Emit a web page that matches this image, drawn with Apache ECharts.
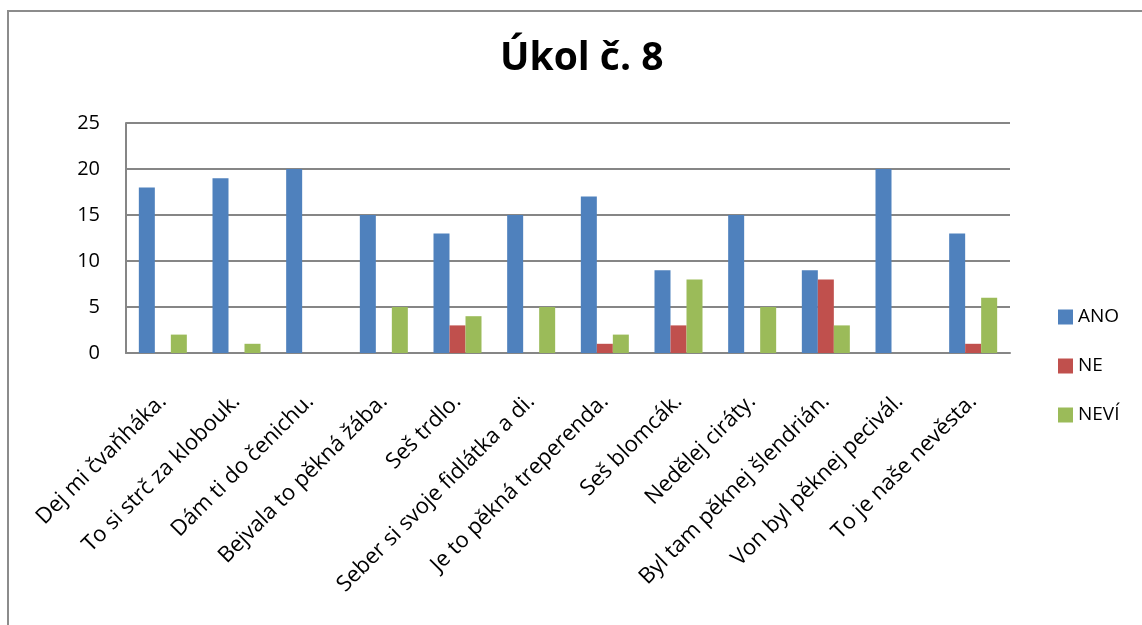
<!DOCTYPE html>
<html>
<head>
<meta charset="utf-8">
<script src="https://cdn.jsdelivr.net/npm/echarts@6/dist/echarts.min.js"></script>
<style>
  html, body { margin: 0; padding: 0; background: #fff; }
  #chart { width: 1142px; height: 625px; }
</style>
</head>
<body>
<div id="chart"></div>
<script>
  // data
  const categories = [
    'Dej mi čvaňháka.', 'To si strč za klobouk.', 'Dám ti do čenichu.',
    'Bejvala to pěkná žába.', 'Seš trdlo.', 'Seber si svoje fidlátka a di.',
    'Je to pěkná treperenda.', 'Seš blomcák.', 'Nedělej ciráty.',
    'Byl tam pěknej šlendrián.', 'Von byl pěknej pecivál.', 'To je naše nevěsta.'
  ];
  const ano  = [18, 19, 20, 15, 13, 15, 17, 9, 15, 9, 20, 13];
  const ne   = [0, 0, 0, 0, 3, 0, 1, 3, 0, 8, 0, 1];
  const nevi = [2, 1, 0, 5, 4, 5, 2, 8, 5, 3, 0, 6];

  const font = '"Open Sans", Lato, sans-serif';
  const chart = echarts.init(document.getElementById('chart'));

  const option = {
    animation: false,
    title: {
      text: 'Úkol č. 8',
      left: 495,
      top: 34,
      textStyle: { fontFamily: font, fontSize: 39, fontWeight: 'bold', color: '#000' }
    },
    legend: {
      orient: 'vertical',
      left: 1053,
      top: 302,
      itemWidth: 15,
      itemHeight: 15,
      itemGap: 29,
      icon: 'rect',
      textStyle: { fontFamily: font, fontSize: 19, color: '#000', lineHeight: 20 },
      data: ['ANO', 'NE', 'NEVÍ']
    },
    grid: { left: 126, right: 132, top: 123, bottom: 272 },
    xAxis: {
      type: 'category',
      data: categories,
      axisLine: { lineStyle: { color: '#868686', width: 2 } },
      axisTick: { show: false },
      axisLabel: {
        rotate: 45,
        interval: 0,
        margin: 45,
        fontFamily: font,
        fontSize: 22,
        color: '#000'
      }
    },
    yAxis: {
      type: 'value',
      min: 0,
      max: 25,
      interval: 5,
      axisLine: { show: true, lineStyle: { color: '#868686', width: 2 } },
      axisTick: { show: false },
      splitLine: { lineStyle: { color: '#868686', width: 2 } },
      axisLabel: { margin: 26, fontFamily: font, fontSize: 20, color: '#000' }
    },
    series: [
      { name: 'ANO', type: 'bar', data: ano, barWidth: 16, barGap: '0%', itemStyle: { color: '#4F81BD' } },
      { name: 'NE', type: 'bar', data: ne, barWidth: 16, barGap: '0%', itemStyle: { color: '#C0504D' } },
      { name: 'NEVÍ', type: 'bar', data: nevi, barWidth: 16, barGap: '0%', itemStyle: { color: '#9BBB59' } }
    ],
    graphic: [{
      type: 'rect',
      shape: { x: 8, y: 11, width: 1200, height: 700 },
      style: { fill: 'none', stroke: '#8c8c8c', lineWidth: 2 },
      silent: true
    }]
  };
  chart.setOption(option);
</script>
</body>
</html>
